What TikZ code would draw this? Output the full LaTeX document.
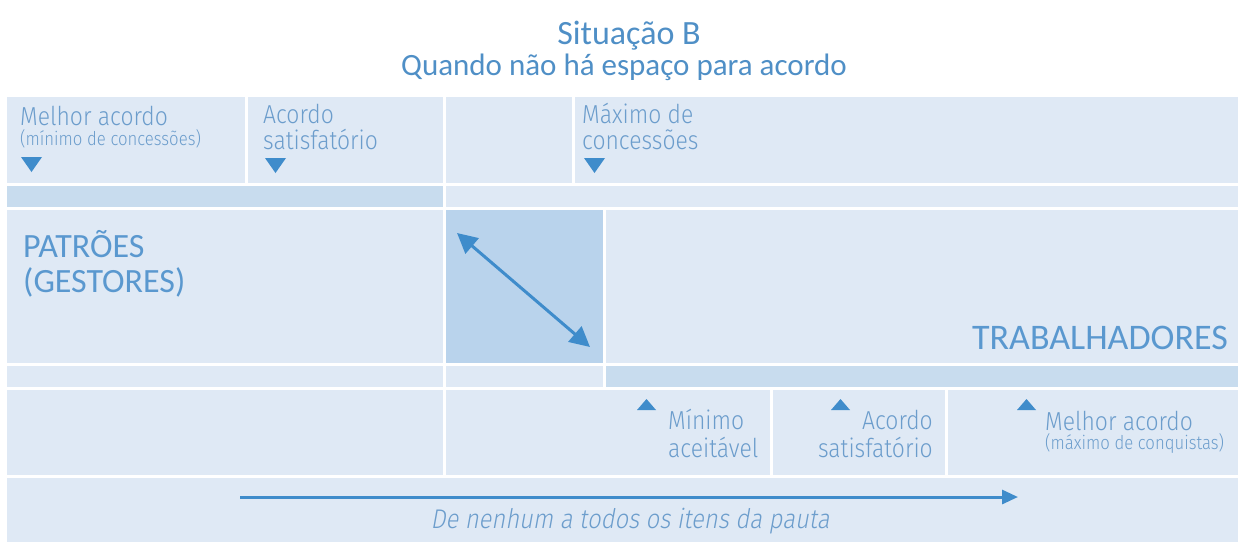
\documentclass[tikz,border=0pt]{standalone}
\usepackage{fontspec}
\usetikzlibrary{arrows.meta}
\setmainfont{Carlito}
\IfFontExistsTF{Fira Sans Light}
  {\newfontfamily\lightf{Fira Sans Light}[FakeStretch=0.88]
   \newfontfamily\lightit{Fira Sans Light}[FakeStretch=0.88,FakeSlant=0.18]}
  {\newfontfamily\lightf{Fira Sans}[FakeStretch=0.88]
   \newfontfamily\lightit{Fira Sans}[FakeStretch=0.88,FakeSlant=0.18]}
\definecolor{panel}{HTML}{DFE9F5}
\definecolor{bar}{HTML}{C8DCEE}
\definecolor{mid}{HTML}{B9D3EC}
\definecolor{ttl}{HTML}{4F8FC6}
\definecolor{lbl}{HTML}{6C9DCC}
\definecolor{big}{HTML}{5A98CF}
\definecolor{arr}{HTML}{3F8CCB}
\tikzset{
  cell/.style={anchor=north west, inner sep=0pt, outer sep=0pt, draw=none, fill=panel},
  lab/.style={inner sep=0pt, text=lbl, font=\lightf\fontsize{26}{28}\selectfont},
  sub/.style={inner sep=0pt, text=lbl, font=\lightf\fontsize{19}{21}\selectfont},
  bigt/.style={inner sep=0pt, text=big, font=\fontsize{34}{36}\selectfont},
  tri/.style={fill=arr},
  dbl/.style={draw=arr, line width=3pt, {Triangle[length=20pt,width=20pt]}-{Triangle[length=20pt,width=20pt]}},
  one/.style={draw=arr, line width=3pt, -{Triangle[length=16pt,width=14pt]}}
}
\begin{document}
\begin{tikzpicture}[x=1pt,y=-1pt]
\useasboundingbox (0,0) rectangle (1238,542);
% row 1
\node[cell, minimum width=238pt, minimum height=86pt] (r1a) at (7,97) {};
\node[cell, minimum width=195pt, minimum height=86pt] (r1b) at (248,97) {};
\node[cell, minimum width=126pt, minimum height=86pt] (r1c) at (446,97) {};
\node[cell, minimum width=663pt, minimum height=86pt] (r1d) at (575,97) {};
% row 2
\node[cell, fill=bar, minimum width=436pt, minimum height=21pt] (r2a) at (7,186) {};
\node[cell, minimum width=792pt, minimum height=21pt] (r2b) at (446,186) {};
% row 3
\node[cell, minimum width=436pt, minimum height=153pt] (r3a) at (7,210) {};
\node[cell, fill=mid, minimum width=157pt, minimum height=153pt] (r3b) at (446,210) {};
\node[cell, minimum width=632pt, minimum height=153pt] (r3c) at (606,210) {};
% row 4
\node[cell, minimum width=436pt, minimum height=21pt] (r4a) at (7,366) {};
\node[cell, minimum width=157pt, minimum height=21pt] (r4b) at (446,366) {};
\node[cell, fill=bar, minimum width=632pt, minimum height=21pt] (r4c) at (606,366) {};
% row 5
\node[cell, minimum width=436pt, minimum height=85pt] (r5a) at (7,390) {};
\node[cell, minimum width=324pt, minimum height=85pt] (r5b) at (446,390) {};
\node[cell, minimum width=172pt, minimum height=85pt] (r5c) at (773,390) {};
\node[cell, minimum width=290pt, minimum height=85pt] (r5d) at (948,390) {};
% row 6
\node[cell, minimum width=1231pt, minimum height=64pt] (r6) at (7,478) {};

% title
\node[inner sep=0pt, text=ttl, font=\fontsize{34}{36}\selectfont, anchor=base] (t1) at (629,44) {Situação B};
\node[inner sep=0pt, text=ttl, font=\fontsize{31}{33}\selectfont, anchor=base] (t2) at (624,75) {Quando não há espaço para acordo};

% top labels
\node[lab, anchor=base west] (m1) at (20,125) {Melhor acordo};
\node[sub, anchor=base west] (m2) at (20,145) {(mínimo de concessões)};
\fill[tri] (21,157) -- (42,157) -- (31.5,172) -- cycle;
\node[lab, anchor=base west] (a1) at (263,123) {Acordo};
\node[lab, anchor=base west] (a2) at (263,149) {satisfatório};
\fill[tri] (265,158) -- (286,158) -- (275.5,173) -- cycle;
\node[lab, anchor=base west] (x1) at (582,123) {Máximo de};
\node[lab, anchor=base west] (x2) at (582,149) {concessões};
\fill[tri] (584,158) -- (605,158) -- (594.5,173) -- cycle;

% big labels
\node[bigt, anchor=base west] (p1) at (23,257) {PATRÕES};
\node[bigt, anchor=base west] (p2) at (23,292) {(GESTORES)};
\node[bigt, font=\fontsize{36}{38}\selectfont, anchor=base east] (tr) at (1228,349) {TRABALHADORES};

% diagonal arrow
\coordinate (d1) at (457,233);
\coordinate (d2) at (590,347);
\draw[dbl] (d1) -- (d2);

% bottom labels
\fill[tri] (637,410) -- (656,410) -- (646.5,399) -- cycle;
\node[lab, anchor=base west] (n1) at (668,429) {Mínimo};
\node[lab, anchor=base west] (n2) at (668,457) {aceitável};
\fill[tri] (831,410) -- (850,410) -- (840.5,399) -- cycle;
\node[lab, anchor=base east] (s1) at (933,429) {Acordo};
\node[lab, anchor=base east] (s2) at (933,457) {satisfatório};
\fill[tri] (1017,410) -- (1036,410) -- (1026.5,399) -- cycle;
\node[lab, anchor=base west] (w1) at (1045,430) {Melhor acordo};
\node[sub, anchor=base west] (w2) at (1045,449) {(máximo de conquistas)};

% bottom arrow
\coordinate (b1) at (240,497);
\coordinate (b2) at (1018,497);
\draw[one] (b1) -- (b2);
\node[inner sep=0pt, text=lbl, font=\lightit\fontsize{27}{29}\selectfont, anchor=base] (it) at (630,528) {De nenhum a todos os itens da pauta};
\end{tikzpicture}
\end{document}
